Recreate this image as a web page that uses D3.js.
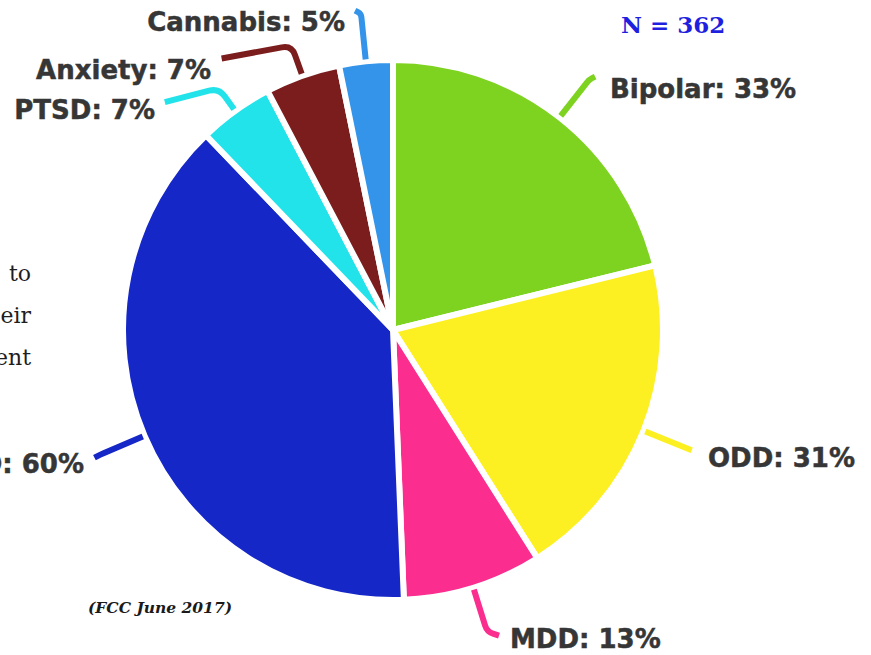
<!DOCTYPE html>
<html>
<head>
<meta charset="utf-8">
<script src="https://cdn.jsdelivr.net/npm/d3@7"></script>
<style>
  html, body { margin: 0; padding: 0; background: #fff; overflow: hidden; }
  svg { display: block; }
</style>
</head>
<body>
<svg id="chart" width="871" height="655"></svg>
<script>
// ---- data ----
const categories = ["Bipolar", "ODD", "MDD", "ADHD", "PTSD", "Anxiety", "Cannabis"];
const values = [33, 31, 13, 60, 7, 7, 5];
const sampleLabel = "N = 362";
const sourceLabel = "(FCC June 2017)";
const bodyFragments = ["to", "eir", "ent"];

// ---- styles / layout ----
const colors = ["#7ed321", "#fcf023", "#fb2d8f", "#1527c6", "#22e3ea", "#7b1d1d", "#3394ea"];
// per-slice leader layout: elbow radius, tail offset from elbow, label pos, anchor
const leaders = [
  { r1: 318, tail: [6, -3],   lx: 610, ly: 98,  anchor: "start" },
  { r1: 322, tail: [0, 0],    lx: 708, ly: 467, anchor: "start" },
  { r1: 316, tail: [12, 4],   lx: 510, ly: 648, anchor: "start" },
  { r1: 318, tail: [-6, 3],   lx: 84,  ly: 473, anchor: "end" },
  { r1: 298, tail: [-54, 14], lx: 155, ly: 119, anchor: "end" },
  { r1: 302, tail: [-70, 13], lx: 211, ly: 79,  anchor: "end" },
  { r1: 318, tail: [-6, -3],  lx: 345, ly: 31,  anchor: "end" }
];

const cx = 393, cy = 330, R = 270;
const svg = d3.select("#chart");

// background body text fragments (cut by left edge in the source)
const bodyY = [281, 323, 365];
svg.append("g").selectAll("text").data(bodyFragments).join("text")
  .attr("x", 31).attr("y", (d, i) => bodyY[i])
  .attr("text-anchor", "end")
  .attr("font-family", "'DejaVu Serif', 'Liberation Serif', serif")
  .attr("font-size", 22)
  .attr("fill", "#1e1e1e")
  .text(d => d);

const pie = d3.pie().sort(null).value(d => d).startAngle(0).endAngle(2 * Math.PI);
const arcs = pie(values);
const arc = d3.arc().innerRadius(0).outerRadius(R);

const g = svg.append("g").attr("transform", `translate(${cx},${cy})`);
g.selectAll("path.slice").data(arcs).join("path")
  .attr("class", "slice")
  .attr("d", arc)
  .attr("fill", (d, i) => colors[i])
  .attr("stroke", "#fff")
  .attr("stroke-width", 6)
  .attr("stroke-linejoin", "round");

// leader lines
function pt(r, a) { return [r * Math.sin(a), -r * Math.cos(a)]; }
const leaderPath = (d, i) => {
  const L = leaders[i];
  const a = (d.startAngle + d.endAngle) / 2;
  const p0 = pt(272, a), p1 = pt(L.r1, a);
  const p2 = [p1[0] + L.tail[0], p1[1] + L.tail[1]];
  const len1 = Math.hypot(p1[0] - p0[0], p1[1] - p0[1]);
  const len2 = Math.hypot(p2[0] - p1[0], p2[1] - p1[1]);
  if (len2 < 1) return `M${p0}L${p1}`;
  const k = Math.min(10, len1 * 0.4, len2 * 0.5);
  const a1 = [p1[0] - (p1[0] - p0[0]) / len1 * k, p1[1] - (p1[1] - p0[1]) / len1 * k];
  const a2 = [p1[0] + (p2[0] - p1[0]) / len2 * k, p1[1] + (p2[1] - p1[1]) / len2 * k];
  return `M${p0}L${a1}Q${p1} ${a2}L${p2}`;
};
g.selectAll("path.leader").data(arcs).join("path")
  .attr("class", "leader")
  .attr("d", leaderPath)
  .attr("fill", "none")
  .attr("stroke", (d, i) => colors[i])
  .attr("stroke-width", 6)
  .attr("stroke-linecap", "butt");

// labels
svg.append("g").selectAll("text").data(arcs).join("text")
  .attr("x", (d, i) => leaders[i].lx)
  .attr("y", (d, i) => leaders[i].ly)
  .attr("text-anchor", (d, i) => leaders[i].anchor)
  .attr("font-family", "'DejaVu Sans', 'Liberation Sans', sans-serif")
  .attr("font-weight", "bold")
  .attr("font-size", 26)
  .attr("fill", "#363636")
  .attr("stroke", "#363636")
  .attr("stroke-width", 0.5)
  .text((d, i) => `${categories[i]}: ${values[i]}%`);

// N label
svg.append("text")
  .attr("x", 621).attr("y", 33)
  .attr("font-family", "'DejaVu Serif', 'Liberation Serif', serif")
  .attr("font-weight", "bold")
  .attr("font-size", 23)
  .attr("fill", "#1f1fe0")
  .text(sampleLabel);

// source
svg.append("text")
  .attr("x", 88).attr("y", 613)
  .attr("font-family", "'DejaVu Serif', 'Liberation Serif', serif")
  .attr("font-weight", "bold")
  .attr("font-style", "italic")
  .attr("font-size", 15.5)
  .attr("fill", "#1a1a1a")
  .text(sourceLabel);
</script>
</body>
</html>
